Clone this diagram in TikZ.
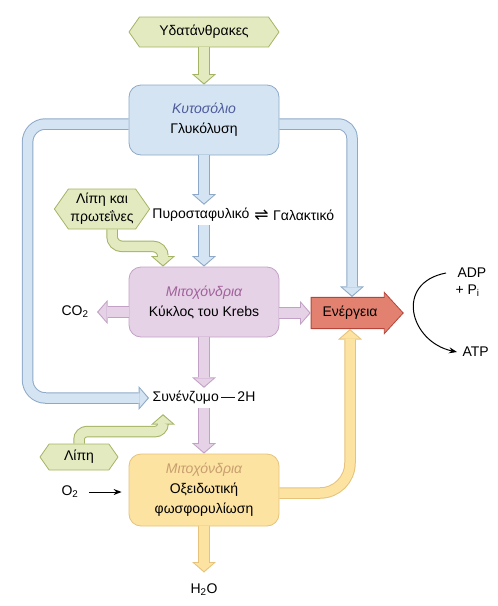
\documentclass[tikz,border=0pt]{standalone}
\usepackage{fontspec}
\setmainfont{Liberation Sans}
\newfontfamily\symbfont{DejaVu Sans}
\usetikzlibrary{arrows.meta,positioning,calc,shapes.symbols,shapes.arrows}
\definecolor{gfill}{HTML}{E3EAC0}
\definecolor{gline}{HTML}{A3B465}
\definecolor{bfill}{HTML}{D4E4F2}
\definecolor{bline}{HTML}{8EA9C8}
\definecolor{pfill}{HTML}{E6D2E7}
\definecolor{pline}{HTML}{C3A1C6}
\definecolor{yfill}{HTML}{FCE3A2}
\definecolor{yline}{HTML}{E6C27A}
\definecolor{efill}{HTML}{E2816F}
\definecolor{eline}{HTML}{B5443A}
\definecolor{cytot}{HTML}{4D5A9B}
\definecolor{mitot}{HTML}{A0609A}
\definecolor{oxidt}{HTML}{C89E6E}

\begin{document}
\begin{tikzpicture}[
  x=1pt,y=-1pt,
  every node/.style={font=\fontsize{14}{20}\selectfont},
  hexa/.style={signal,signal to=west and east,signal pointer angle=110,draw=gline,fill=gfill,line width=0.8pt,align=center,inner sep=2pt},
  box/.style={rounded corners=12pt,align=center,line width=0.8pt,minimum width=150pt,minimum height=70pt},
  fat/.style 2 args={draw=#1,line width=9.5pt,shorten >=1.5pt,
    -{Triangle[length=8pt,width=18.8pt,line width=0pt]},
    preaction={draw=#2,line width=11.5pt,shorten >=0pt,-{Triangle[length=10.5pt,width=24pt,line width=0pt]}}},
  thin/.style={-{Stealth[length=8pt,width=6pt]},line width=1pt}
]
\useasboundingbox (0,0) rectangle (498,606);

\node[hexa,minimum width=150pt,minimum height=30pt] (carb) at (204,32) {Υδατάνθρακες};
\node[box,draw=bline,fill=bfill] (cyto) at (204,120) {{\color{cytot}\itshape Κυτοσόλιο}\\Γλυκόλυση};
\node (pyr) at (201,215) {Πυροσταφυλικό};
\node[right=0pt of pyr,inner sep=1pt,font=\symbfont\fontsize{17}{17}\selectfont] (eqm) {⇌};
\node[right=0pt of eqm] (lac) {Γαλακτικό};
\node[hexa,minimum width=86pt,minimum height=40pt,font=\fontsize{14}{18}\selectfont] (lipprot) at (102,209) {Λίπη και\\πρωτεΐνες};
\node[box,draw=pline,fill=pfill] (mito) at (204,302) {{\color{mitot}\itshape Μιτοχόνδρια}\\Κύκλος του Krebs};
\node (co2) at (75,312) {CO\textsubscript{2}};
\node[single arrow,single arrow head extend=5pt,single arrow tip angle=95,inner xsep=11pt,inner ysep=8.5pt,
  draw=eline,fill=efill,line width=0.8pt] (ener) at (350,313) {Ενέργεια};
\node[anchor=west] (adp) at (454,273) {ADP};
\node[anchor=west] (pi) at (452,291) {+ P\textsubscript{i}};
\node[anchor=west] (atp) at (459,352) {ATP};
\node (coen) at (204,398) {Συνένζυμο\,—\,2H};
\node[hexa,minimum width=78pt,minimum height=26pt] (lip) at (79,457) {Λίπη};
\node[box,draw=yline,fill=yfill,minimum height=72pt] (oxid) at (204,490) {{\color{oxidt}\itshape Μιτοχόνδρια}\\Οξειδωτική\\φωσφορυλίωση};
\node (o2) at (70,492) {O\textsubscript{2}};
\node (h2o) at (204,590) {H\textsubscript{2}O};

% blue
\draw[fat={bfill}{bline},rounded corners=18pt] ([yshift=-4pt]cyto.west) -- ++(-101,0) |- (coen.west);
\draw[fat={bfill}{bline},rounded corners=14pt] ([yshift=-4pt]cyto.east) -| ([xshift=2pt]ener.north);
\draw[fat={bfill}{bline}] (cyto.south) -- (cyto.south |- pyr.north);
\draw[fat={bfill}{bline}] (mito.north |- pyr.south) -- (mito.north);
% green
\draw[fat={gfill}{gline}] (carb.south) -- (cyto.north);
\draw[fat={gfill}{gline},rounded corners=10pt] ([xshift=10pt]lipprot.south) -- ++(0,17) -| ([xshift=-41pt]mito.north);
\draw[fat={gfill}{gline},rounded corners=8pt] (lip.north) -- ++(0,-12) -| ([xshift=-41pt,yshift=-6pt]coen.south);
% pink
\draw[fat={pfill}{pline}] (co2 -| mito.west) -- ([xshift=5pt]co2.east);
\draw[fat={pfill}{pline}] (ener.west -| mito.east) -- (ener.west);
\draw[fat={pfill}{pline}] (mito.south) -- (coen.north);
\draw[fat={pfill}{pline}] (coen.south) -- (oxid.north);
% yellow
\draw[fat={yfill}{yline},rounded corners=30pt] ([yshift=-3pt]oxid.east) -| (ener.south);
\draw[fat={yfill}{yline}] (oxid.south) -- ([yshift=8pt]h2o.north);
% black
\draw[thin,shorten <=7pt,shorten >=7pt] (o2.east) -- (o2 -| oxid.west);
\draw[thin] ([xshift=-8pt]adp.west) .. controls +(-52,10) and +(-47,-10) .. ([xshift=-2pt]atp.west);
\end{tikzpicture}
\end{document}
